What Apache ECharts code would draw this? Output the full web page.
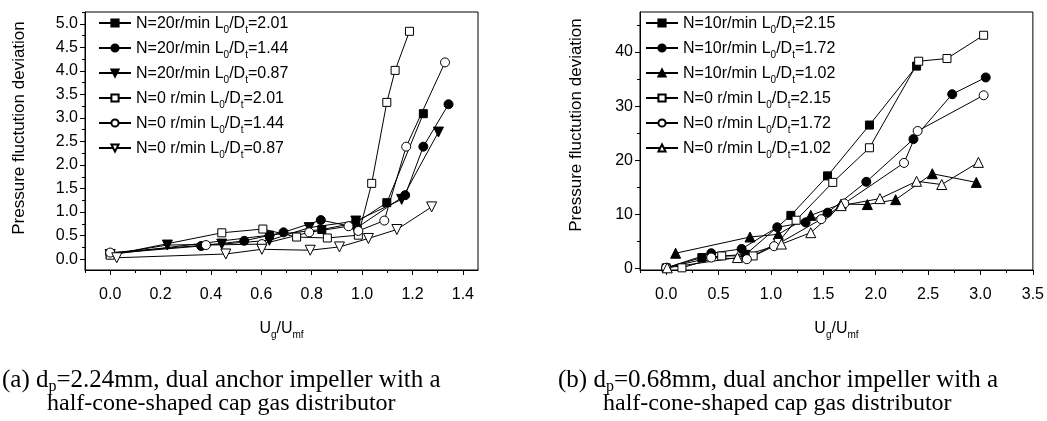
<!DOCTYPE html>
<html><head><meta charset="utf-8">
<script src="https://cdn.jsdelivr.net/npm/echarts@6/dist/echarts.min.js"></script>
<style>html,body{margin:0;padding:0;background:#fff}#c{width:1047px;height:421px}</style>
</head><body><div id="c"></div>
<script>
// ---------- DATA: left panel (a) ----------
const leftXTicks = [0.0, 0.2, 0.4, 0.6, 0.8, 1.0, 1.2, 1.4];
const leftXMinor = [-0.1, 0.1, 0.3, 0.5, 0.7, 0.9, 1.1, 1.3];
const leftYTicks = [0.0, 0.5, 1.0, 1.5, 2.0, 2.5, 3.0, 3.5, 4.0, 4.5, 5.0];
const leftYMinor = [-0.25, 0.25, 0.75, 1.25, 1.75, 2.25, 2.75, 3.25, 3.75, 4.25, 4.75, 5.25];
const leftN20_201 = [[0.0,0.10],[0.632,0.51],[0.84,0.63],[0.975,0.77],[1.098,1.20],[1.243,3.09]];
const leftN20_144 = [[0.0,0.12],[0.361,0.28],[0.532,0.39],[0.688,0.57],[0.836,0.83],[0.98,0.67],[1.171,1.36],[1.243,2.39],[1.343,3.29]];
const leftN20_087 = [[0.0,0.10],[0.227,0.30],[0.443,0.32],[0.632,0.40],[0.79,0.67],[0.975,0.81],[1.157,1.27],[1.303,2.70]];
const leftN0_201 = [[0.0,0.085],[0.443,0.56],[0.606,0.64],[0.74,0.47],[0.862,0.45],[0.985,0.51],[1.038,1.61],[1.098,3.33],[1.131,4.01],[1.188,4.84]];
const leftN0_144 = [[0.0,0.14],[0.38,0.30],[0.602,0.32],[0.79,0.57],[0.946,0.70],[0.985,0.60],[1.088,0.82],[1.175,2.39],[1.329,4.18]];
const leftN0_087 = [[0.026,0.03],[0.459,0.11],[0.602,0.21],[0.794,0.19],[0.91,0.26],[1.025,0.44],[1.138,0.63],[1.276,1.11]];
const leftLabels = [
  ['N=20r/min L','0','/D','t','=2.01'],
  ['N=20r/min L','0','/D','t','=1.44'],
  ['N=20r/min L','0','/D','t','=0.87'],
  ['N=0 r/min L','0','/D','t','=2.01'],
  ['N=0 r/min L','0','/D','t','=1.44'],
  ['N=0 r/min L','0','/D','t','=0.87']
];

// ---------- DATA: right panel (b) ----------
const rightXTicks = [0.0, 0.5, 1.0, 1.5, 2.0, 2.5, 3.0, 3.5];
const rightXMinor = [-0.25, 0.25, 0.75, 1.25, 1.75, 2.25, 2.75, 3.25];
const rightYTicks = [0, 10, 20, 30, 40];
const rightYMinor = [5, 15, 25, 35, 45];
const rightN10_215 = [[0.0,0.1],[0.34,2.0],[0.76,2.6],[1.19,9.8],[1.54,17.1],[1.94,26.5],[2.39,37.4]];
const rightN10_172 = [[0.0,0.1],[0.43,2.8],[0.72,3.6],[1.06,7.6],[1.33,8.5],[1.54,10.3],[1.91,16.0],[2.36,23.9],[2.73,32.2],[3.05,35.3]];
const rightN10_102 = [[0.09,2.8],[0.80,5.8],[1.07,6.3],[1.38,9.8],[1.67,11.9],[1.92,11.8],[2.19,12.7],[2.54,17.5],[2.96,15.9]];
const rightN0_215 = [[0.15,0.1],[0.53,2.3],[0.83,2.3],[1.07,4.8],[1.24,8.9],[1.59,15.9],[1.94,22.3],[2.41,38.3],[2.68,38.8],[3.03,43.1]];
const rightN0_172 = [[0.0,0.1],[0.43,2.0],[0.77,1.7],[1.03,4.1],[1.48,9.1],[1.70,12.0],[2.27,19.5],[2.40,25.4],[3.03,32.0]];
const rightN0_102 = [[0.01,0.1],[0.68,2.0],[1.10,4.5],[1.38,6.6],[1.67,11.6],[2.04,12.9],[2.39,16.1],[2.63,15.5],[2.98,19.6]];
const rightLabels = [
  ['N=10r/min L','0','/D','t','=2.15'],
  ['N=10r/min L','0','/D','t','=1.72'],
  ['N=10r/min L','0','/D','t','=1.02'],
  ['N=0 r/min L','0','/D','t','=2.15'],
  ['N=0 r/min L','0','/D','t','=1.72'],
  ['N=0 r/min L','0','/D','t','=1.02']
];

// ---------- build ----------
const FONT = 'Liberation Sans, Arial, sans-serif';
const SERIF = 'Liberation Serif, Times New Roman, serif';
const nameOf = p => p.join('');
const richOf = p => '{a|' + p[0] + '}{s|' + p[1] + '}{a|' + p[2] + '}{s|' + p[3] + '}{a|' + p[4] + '}';
const legendMap = {};
leftLabels.concat(rightLabels).forEach(p => { legendMap[nameOf(p)] = richOf(p); });

const grids = [
  {left: 85, top: 12, width: 393, height: 258, show: true, borderColor: '#000', borderWidth: 1},
  {left: 640, top: 12, width: 397, height: 258, show: true, borderColor: '#000', borderWidth: 1}
];

function mainX(gi, min, max, ticks, dec) {
  return {type: 'value', gridIndex: gi, min: min, max: max, position: 'bottom',
    axisLine: {show: true, onZero: false, lineStyle: {color: '#000', width: 1}},
    axisTick: {show: true, inside: false, length: 5, customValues: ticks, lineStyle: {color: '#000'}},
    axisLabel: {show: true, customValues: ticks, color: '#000', fontFamily: FONT, fontSize: 16, margin: 17,
      formatter: v => v.toFixed(dec)},
    splitLine: {show: false},
    name: '{a|U}{s|g}{a|/U}{s|mf}', nameLocation: 'middle', nameGap: 47,
    nameTextStyle: {rich: {
      a: {fontFamily: FONT, fontSize: 16, color: '#000', lineHeight: 20, verticalAlign: 'bottom'},
      s: {fontFamily: FONT, fontSize: 10, color: '#000', lineHeight: 10, verticalAlign: 'bottom', padding: [0,0,-3,0]}
    }}
  };
}
function minorX(gi, min, max, ticks) {
  return {type: 'value', gridIndex: gi, min: min, max: max, position: 'bottom',
    axisLine: {show: false, onZero: false},
    axisTick: {show: true, inside: false, length: 3, customValues: ticks, lineStyle: {color: '#000'}},
    axisLabel: {show: false}, splitLine: {show: false}};
}
function mainY(gi, min, max, ticks, dec) {
  return {type: 'value', gridIndex: gi, min: min, max: max, position: 'left',
    axisLine: {show: true, onZero: false, lineStyle: {color: '#000', width: 1}},
    axisTick: {show: true, inside: false, length: 5, customValues: ticks, lineStyle: {color: '#000'}},
    axisLabel: {show: true, customValues: ticks, color: '#000', fontFamily: FONT, fontSize: 16, margin: 7,
      formatter: v => v.toFixed(dec)},
    splitLine: {show: false}};
}
function minorY(gi, min, max, ticks) {
  return {type: 'value', gridIndex: gi, min: min, max: max, position: 'left',
    axisLine: {show: false, onZero: false},
    axisTick: {show: true, inside: false, length: 3, customValues: ticks, lineStyle: {color: '#000'}},
    axisLabel: {show: false}, splitLine: {show: false}};
}

const LXMIN = -0.1, LXMAX = 1.46, LYMIN = -0.23, LYMAX = 5.25;
const RXMIN = -0.25, RXMAX = 3.5, RYMIN = -0.3, RYMAX = 47.4;

const filled = {color: '#000', borderColor: '#000', borderWidth: 1};
const hollow = {color: '#fff', borderColor: '#000', borderWidth: 1};
function mk(name, data, axis, symbol, style, rot, size) {
  return {type: 'line', name: name, data: data, xAxisIndex: axis, yAxisIndex: axis,
    symbol: symbol, symbolSize: size, symbolRotate: rot || 0, showSymbol: true,
    lineStyle: {color: '#000', width: 1}, itemStyle: style, emphasis: {disabled: true},
    animation: false};
}

const series = [
  mk(nameOf(leftLabels[0]), leftN20_201, 0, 'rect', filled, 0, 8),
  mk(nameOf(leftLabels[1]), leftN20_144, 0, 'circle', filled, 0, 9),
  mk(nameOf(leftLabels[2]), leftN20_087, 0, 'triangle', filled, 180, 10),
  mk(nameOf(leftLabels[3]), leftN0_201, 0, 'rect', hollow, 0, 8),
  mk(nameOf(leftLabels[4]), leftN0_144, 0, 'circle', hollow, 0, 9),
  mk(nameOf(leftLabels[5]), leftN0_087, 0, 'triangle', hollow, 180, 10),
  mk(nameOf(rightLabels[0]), rightN10_215, 2, 'rect', filled, 0, 8),
  mk(nameOf(rightLabels[1]), rightN10_172, 2, 'circle', filled, 0, 9),
  mk(nameOf(rightLabels[2]), rightN10_102, 2, 'triangle', filled, 0, 10),
  mk(nameOf(rightLabels[3]), rightN0_215, 2, 'rect', hollow, 0, 8),
  mk(nameOf(rightLabels[4]), rightN0_172, 2, 'circle', hollow, 0, 9),
  mk(nameOf(rightLabels[5]), rightN0_102, 2, 'triangle', hollow, 0, 10)
];

const legendRich = {
  a: {fontFamily: FONT, fontSize: 16, color: '#000', lineHeight: 18, verticalAlign: 'bottom'},
  s: {fontFamily: FONT, fontSize: 10, color: '#000', lineHeight: 10, verticalAlign: 'bottom', padding: [0,0,-3,0]}
};
function legend(left, names) {
  return {orient: 'vertical', left: left, top: 16, itemWidth: 32, itemHeight: 9, itemGap: 6,
    data: names, selectedMode: false, formatter: n => legendMap[n],
    textStyle: {rich: legendRich}, padding: 0};
}
const capRich = {
  c: {fontFamily: SERIF, fontSize: 25, fill: '#000', lineHeight: 26, verticalAlign: 'bottom'},
  d: {fontFamily: SERIF, fontSize: 16, fill: '#000', lineHeight: 16, verticalAlign: 'bottom', padding: [0,0,-2,0]}
};

const option = {
  backgroundColor: '#fff',
  animation: false,
  grid: grids,
  xAxis: [
    mainX(0, LXMIN, LXMAX, leftXTicks, 1), minorX(0, LXMIN, LXMAX, leftXMinor),
    mainX(1, RXMIN, RXMAX, rightXTicks, 1), minorX(1, RXMIN, RXMAX, rightXMinor)
  ],
  yAxis: [
    mainY(0, LYMIN, LYMAX, leftYTicks, 1), minorY(0, LYMIN, LYMAX, leftYMinor),
    mainY(1, RYMIN, RYMAX, rightYTicks, 0), minorY(1, RYMIN, RYMAX, rightYMinor)
  ],
  legend: [
    legend(98, leftLabels.map(nameOf)),
    legend(645, rightLabels.map(nameOf))
  ],
  series: series,
  graphic: [
    {type: 'text', x: 19, y: 128, rotation: Math.PI / 2,
      style: {text: 'Pressure fluctution deviation', fontFamily: FONT, fontSize: 17, fill: '#000', align: 'center', verticalAlign: 'middle'}},
    {type: 'text', x: 576, y: 125, rotation: Math.PI / 2,
      style: {text: 'Pressure fluctution deviation', fontFamily: FONT, fontSize: 17, fill: '#000', align: 'center', verticalAlign: 'middle'}},
    {type: 'text', x: 2, y: 380,
      style: {text: '{c|(a) d}{d|p}{c|=2.24mm, dual anchor impeller with a}', align: 'left', verticalAlign: 'middle', rich: capRich}},
    {type: 'text', x: 47, y: 404,
      style: {text: 'half-cone-shaped cap gas distributor', fontFamily: SERIF, fontSize: 24, fill: '#000', align: 'left', verticalAlign: 'middle'}},
    {type: 'text', x: 558, y: 380,
      style: {text: '{c|(b) d}{d|p}{c|=0.68mm, dual anchor impeller with a}', align: 'left', verticalAlign: 'middle', rich: capRich}},
    {type: 'text', x: 603, y: 404,
      style: {text: 'half-cone-shaped cap gas distributor', fontFamily: SERIF, fontSize: 24, fill: '#000', align: 'left', verticalAlign: 'middle'}}
  ]
};
const chart = echarts.init(document.getElementById('c'), null, {renderer: 'canvas'});
chart.setOption(option);
</script></body></html>
